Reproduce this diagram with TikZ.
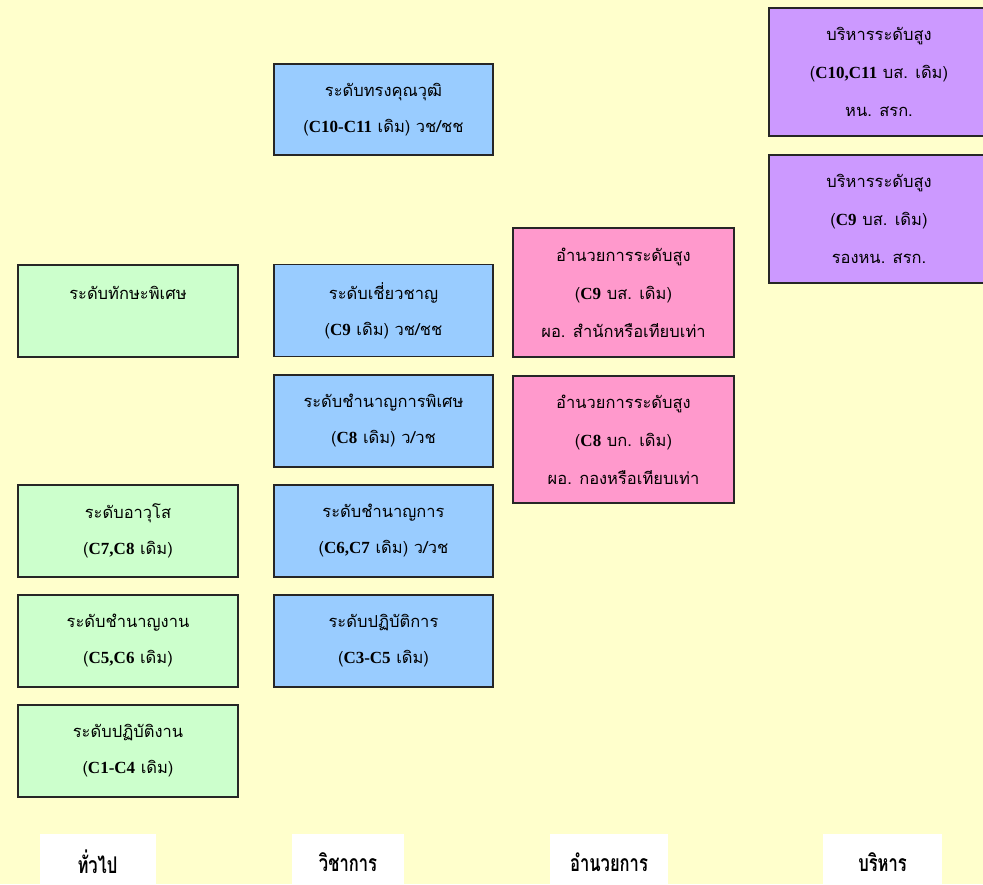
\documentclass[tikz,border=0pt]{standalone}
\usepackage{fontspec}
\setmainfont{Liberation Serif}
\newfontfamily\thai[Script=Thai]{Loma}
\usetikzlibrary{positioning}

\definecolor{bgyellow}{HTML}{FFFFCC}
\definecolor{gfill}{HTML}{CCFFCC}
\definecolor{bfill}{HTML}{99CCFF}
\definecolor{pfill}{HTML}{FF99CC}
\definecolor{mfill}{HTML}{CC99FF}
\definecolor{edge}{HTML}{262626}

\newcommand{\cnum}[1]{{\rmfamily\bfseries\fontsize{17}{36}\selectfont #1}}
\newcommand{\narrow}[1]{\scalebox{0.72}[1]{#1}}

\begin{document}
\begin{tikzpicture}[x=1pt,y=-1pt,
  box/.style={draw=edge,line width=1.4pt,inner sep=0pt,align=center,
    minimum width=220pt,minimum height=92pt,
    font=\thai\fontsize{16.5}{36}\selectfont},
  gbox/.style={box,fill=gfill},
  bbox/.style={box,fill=bfill},
  pbox/.style={box,fill=pfill,minimum height=128pt,font=\thai\fontsize{16.5}{38}\selectfont},
  mbox/.style={box,fill=mfill,minimum height=128pt,font=\thai\fontsize{16.5}{38}\selectfont},
  head/.style={fill=white,inner sep=0pt,minimum width=116pt,minimum height=56pt,
    font=\thai\bfseries\fontsize{23}{24}\selectfont}]
\fill[bgyellow] (0,0) rectangle (983,884);
\clip (0,0) rectangle (983,884);

% ทั่วไป
\node[gbox] (tor) at (128,311) {ระดับทักษะพิเศษ\\~};
\node[gbox] (aws) at (128,531) {ระดับอาวุโส\\(\cnum{C7,C8} เดิม)};
\node[gbox] (cng) at (128,641) {ระดับชำนาญงาน\\(\cnum{C5,C6} เดิม)};
\node[gbox] (ptg) at (128,751) {ระดับปฏิบัติงาน\\(\cnum{C1-C4} เดิม)};

% วิชาการ
\node[bbox,minimum width=219pt,minimum height=91pt] (tkw) at (383.5,109.5) {ระดับทรงคุณวุฒิ\\(\cnum{C10-C11} เดิม) วช/ชช};
\node[bbox,minimum width=219pt] (cch) at (383.5,310.5) {ระดับเชี่ยวชาญ\\(\cnum{C9} เดิม) วช/ชช};
\node[bbox,minimum width=219pt] (cps) at (383.5,421) {ระดับชำนาญการพิเศษ\\(\cnum{C8} เดิม) ว/วช};
\node[bbox,minimum width=219pt] (cgk) at (383.5,531) {ระดับชำนาญการ\\(\cnum{C6,C7} เดิม) ว/วช};
\node[bbox,minimum width=219pt] (ptk) at (383.5,641) {ระดับปฏิบัติการ\\(\cnum{C3-C5} เดิม)};

% อำนวยการ
\node[pbox,minimum width=221pt,minimum height=129pt] (ams) at (623.5,292.5) {อำนวยการระดับสูง\\(\cnum{C9} บส. เดิม)\\ผอ. สำนักหรือเทียบเท่า};
\node[pbox,minimum width=221pt,minimum height=127pt] (amt) at (623.5,439.5) {อำนวยการระดับสูง\\(\cnum{C8} บก. เดิม)\\ผอ. กองหรือเทียบเท่า};

% บริหาร
\node[mbox] (brs) at (879,72) {บริหารระดับสูง\\(\cnum{C10,C11} บส. เดิม)\\หน. สรก.};
\node[mbox] (brt) at (879,219) {บริหารระดับสูง\\(\cnum{C9} บส. เดิม)\\รองหน. สรก.};

% หัวข้อ
\node[head] (hgen) at (97.5,862) {\narrow{ทั่วไป}};
\node[head,minimum width=112pt] (hacd) at (348,862) {\narrow{วิชาการ}};
\node[head,minimum width=118pt] (hdir) at (609,862) {\narrow{อำนวยการ}};
\node[head,minimum width=119pt] (hexe) at (882.5,862) {\narrow{บริหาร}};
\end{tikzpicture}
\end{document}
